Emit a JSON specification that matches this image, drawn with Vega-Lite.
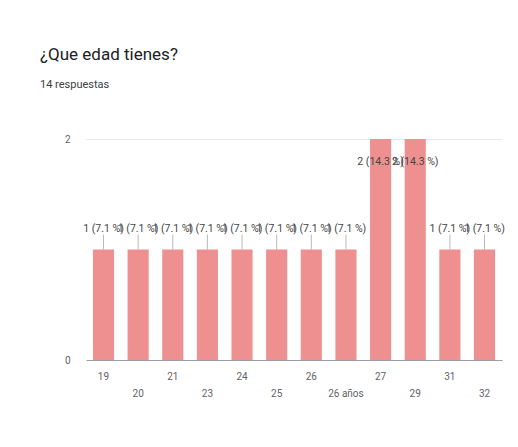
{
  "$schema": "https://vega.github.io/schema/vega-lite/v6.json",
  "width": 416,
  "height": 221,
  "autosize": {"type": "none"},
  "padding": {"left": 86, "top": 139, "right": 16, "bottom": 87},
  "background": "white",
  "config": {
    "view": {"stroke": null},
    "font": "Roboto"
  },
  "title": {
    "text": "¿Que edad tienes?",
    "subtitle": "14 respuestas",
    "anchor": "start",
    "frame": "group",
    "dx": -46,
    "offset": 43,
    "fontSize": 17,
    "fontWeight": "normal",
    "color": "#202124",
    "subtitleFontSize": 11,
    "subtitleColor": "#3c4043",
    "subtitlePadding": 15
  },
  "data": {
    "values": [
      {"edad": "19", "n": 1, "label": "1 (7.1 %)"},
      {"edad": "20", "n": 1, "label": "1 (7.1 %)"},
      {"edad": "21", "n": 1, "label": "1 (7.1 %)"},
      {"edad": "23", "n": 1, "label": "1 (7.1 %)"},
      {"edad": "24", "n": 1, "label": "1 (7.1 %)"},
      {"edad": "25", "n": 1, "label": "1 (7.1 %)"},
      {"edad": "26", "n": 1, "label": "1 (7.1 %)"},
      {"edad": "26 años", "n": 1, "label": "1 (7.1 %)"},
      {"edad": "27", "n": 2, "label": "2 (14.3 %)"},
      {"edad": "29", "n": 2, "label": "2 (14.3 %)"},
      {"edad": "31", "n": 1, "label": "1 (7.1 %)"},
      {"edad": "32", "n": 1, "label": "1 (7.1 %)"}
    ]
  },
  "encoding": {
    "x": {
      "field": "edad",
      "type": "nominal",
      "sort": null,
      "scale": {"paddingInner": 0.39, "paddingOuter": 0.2},
      "axis": {
        "title": null,
        "labelAngle": 0,
        "ticks": false,
        "domainColor": "#9aa0a6",
        "labelColor": "#5f6368",
        "labelFontSize": 10,
        "labelPadding": 11,
        "labelBaseline": "top",
        "labelLineHeight": 17,
        "labelOverlap": false,
        "labelExpr": "indexof(['20','23','25','26 años','29','32'], datum.value) >= 0 ? ['', datum.value] : datum.value"
      }
    },
    "y": {
      "field": "n",
      "type": "quantitative",
      "scale": {"domain": [0, 2], "nice": false},
      "axis": {
        "title": null,
        "values": [0, 0.5, 1, 1.5, 2],
        "format": "d",
        "labelExpr": "datum.value % 1 == 0 ? datum.label : ''",
        "domain": false,
        "ticks": false,
        "labelPadding": 16,
        "labelColor": "#5f6368",
        "labelFontSize": 10,
        "gridColor": {"condition": {"test": "datum.value % 1 == 0", "value": "#e8e8e8"}, "value": "#f4f4f4"}
      }
    }
  },
  "layer": [
    {"mark": {"type": "bar", "color": "#ef9090"}},
    {
      "transform": [{"filter": "datum.n < 2"}],
      "mark": {"type": "tick", "orient": "vertical", "size": 15, "thickness": 1, "yOffset": -7.5, "color": "#9e9e9e"}
    },
    {
      "transform": [{"filter": "datum.n < 2"}],
      "mark": {"type": "text", "dy": -21, "fontSize": 10.5, "color": "#444444", "baseline": "middle"},
      "encoding": {"text": {"field": "label"}}
    },
    {
      "transform": [{"filter": "datum.n >= 2"}],
      "mark": {"type": "text", "dy": 23, "fontSize": 10.5, "color": "#444444", "baseline": "middle"},
      "encoding": {"text": {"field": "label"}}
    }
  ]
}
